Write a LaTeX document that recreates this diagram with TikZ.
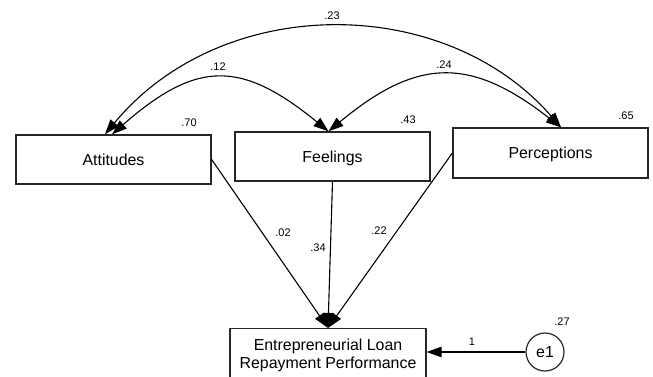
\documentclass[tikz,border=0pt]{standalone}
\usepackage{fontspec}
\setmainfont{Liberation Sans}
\usetikzlibrary{arrows.meta}

\begin{document}
\begin{tikzpicture}[x=1pt,y=-1pt,
        var/.style={draw=black!85, line width=1.3pt, minimum width=195pt, minimum height=49pt,
            inner sep=0pt, text height=11.5pt, text depth=0pt, font=\fontsize{15.9}{18}\selectfont},
        num/.style={inner sep=0pt, font=\fontsize{11}{13}\selectfont},
        effect/.style={line width=1.1pt, -{Triangle[length=15pt,width=10.5pt]}},
        cov/.style={line width=1.1pt, {Triangle[length=15pt,width=10.5pt]}-{Triangle[length=15pt,width=10.5pt]}}]
        \useasboundingbox (0,0) rectangle (653,376);

        \node[var] (Attitudes) at (113.5,159.5) {Attitudes};
        \node[var] (Feelings) at (332.5,156.5) {Feelings};
        \node[var, minimum height=50pt] (Perceptions) at (550.5,153) {Perceptions};
        \node[draw=black!85, line width=1.3pt, minimum width=196pt, inner xsep=0pt, inner ysep=10pt,
            align=center, anchor=north, font=\fontsize{15.9}{18}\selectfont]
            (Performance) at (328,328) {Entrepreneurial Loan\\Repayment Performance};
        \node[draw=black!85, circle, line width=1.2pt, minimum size=38pt, inner sep=0pt,
            font=\fontsize{15.9}{18}\selectfont] (e1) at (545,352) {e1};

        % variances
        \node[num] (vAttitudes) at (189,123) {.70};
        \node[num] (vFeelings) at (408,120) {.43};
        \node[num] (vPerceptions) at (626,116) {.65};
        \node[num] (ve1) at (562,322) {.27};

        % regression weights
        \draw[effect] (Attitudes.east) -- (Performance.north);
        \draw[effect] (Feelings.south) -- (Performance.north);
        \draw[effect] (Perceptions.west) -- (Performance.north);
        \draw[effect] (e1) -- (Performance.east |- e1);
        \node[num] (wAttitudes) at (283,233) {.02};
        \node[num] (wFeelings) at (318,248) {.34};
        \node[num] (wPerceptions) at (379,231) {.22};
        \node[num] (we1) at (472,342) {1};

        % covariances
        \draw[cov] ([xshift=-8.5pt]Attitudes.north) .. controls (222,-7) and (444,-7) .. ([xshift=10.5pt]Perceptions.north);
        \draw[cov] ([xshift=-1.5pt]Attitudes.north) .. controls (197,60) and (241,60) .. ([xshift=-4pt]Feelings.north);
        \draw[cov] ([xshift=-4pt]Feelings.north) .. controls (418,57) and (471,57) .. ([xshift=10.5pt]Perceptions.north);
        \node[num] (cAP) at (332,16) {.23};
        \node[num] (cAF) at (218,67) {.12};
        \node[num] (cFP) at (444,65) {.24};

    \end{tikzpicture}
\end{document}
